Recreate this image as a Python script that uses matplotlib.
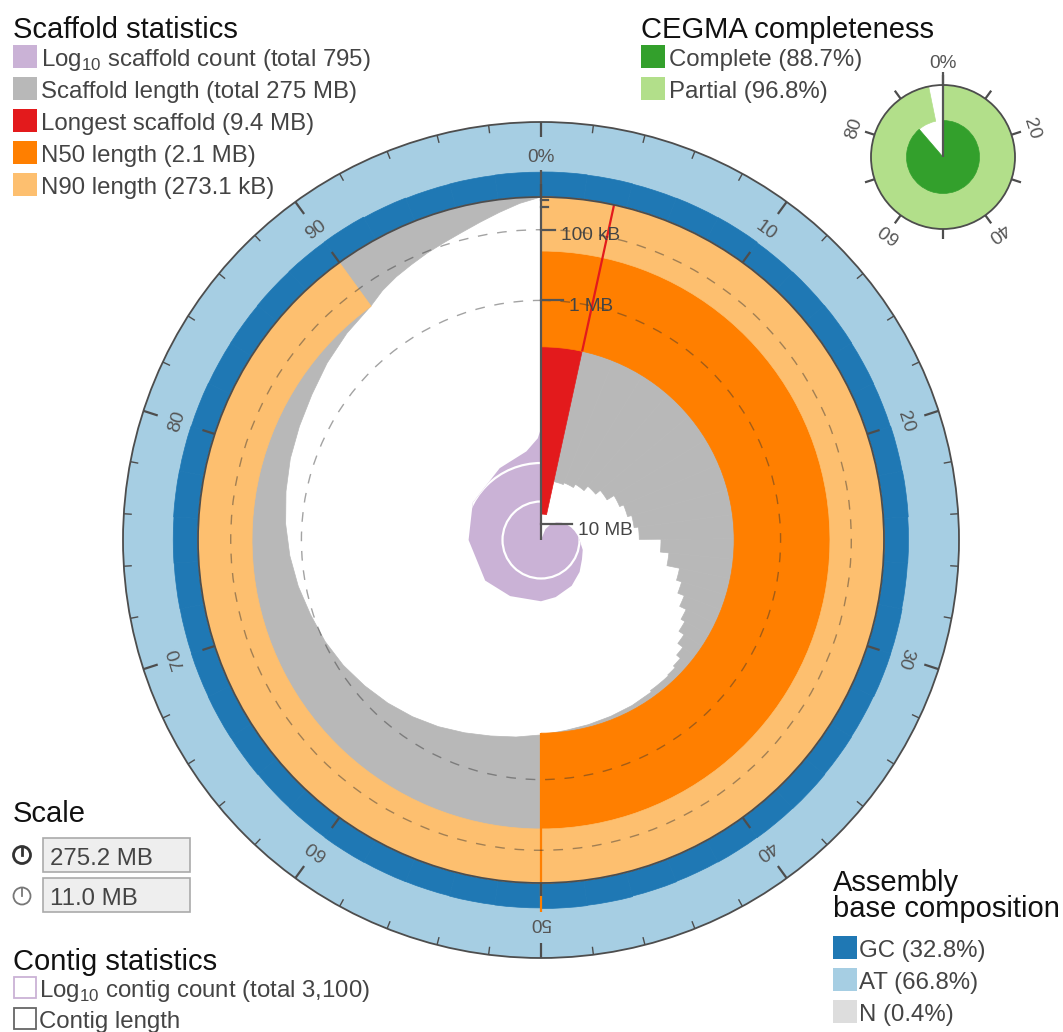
import numpy as np
import matplotlib
matplotlib.use("Agg")
import matplotlib.pyplot as plt
from matplotlib.patches import Wedge, Circle, Rectangle, Polygon

plt.rcParams['font.family'] = ['Liberation Sans', 'DejaVu Sans']
plt.rcParams['mathtext.fontset'] = 'custom'
plt.rcParams['mathtext.rm'] = 'Liberation Sans'

# ---------------- data ----------------
total_mb = 275.2
scale_max_mb = 11.0
longest_mb = 9.4
n50_mb = 2.1
n90_mb = 0.2731
n_scaffolds = 795

# GC content (%) in 2 % bins around the assembly
gc_bins = [33.4, 33.0, 32.6, 32.9, 33.2, 32.5, 32.8, 33.1, 32.7, 32.4,
           32.9, 33.3, 32.6, 32.2, 32.8, 33.0, 32.5, 32.9, 33.4, 33.1,
           32.7, 32.3, 32.8, 33.6, 34.0, 33.2, 32.9, 32.5, 32.7, 33.0,
           32.6, 32.4, 32.9, 33.1, 32.8, 32.5, 32.7, 33.0, 33.5, 33.3,
           32.9, 32.6, 32.8, 33.2, 33.6, 33.9, 33.0, 32.4, 32.7, 33.1]

# scaffold length profile: cumulative % where a step starts, length (MB)
scaffold_pct = [3.4, 6.1, 8.8, 11.4, 13.9, 16.3, 18.6, 20.8, 22.9, 24.9,
                26.6, 28.2, 29.6, 30.9, 32.1, 33.2, 34.3, 35.3, 36.2, 37.1,
                38.0, 40, 42, 44, 46, 48, 50, 52, 54, 56,
                58, 60, 62, 64, 66, 68, 70, 72, 74, 76,
                78, 80, 82, 84, 86, 88, 90, 91, 92, 93,
                94, 95, 96, 97, 98, 99]
scaffold_len = [7.5, 7.4, 7.2, 6.9, 6.6, 6.2, 6.0, 5.8, 5.6, 4.65,
                4.3, 3.8, 3.6, 3.35, 3.1, 2.95, 2.75, 2.55, 2.4, 2.33,
                2.3, 2.25, 2.22, 2.2, 2.17, 2.13, 2.05, 1.95, 1.85, 1.72,
                1.58, 1.45, 1.33, 1.22, 1.11, 1.02, 0.95, 0.86, 0.78, 0.71,
                0.65, 0.59, 0.54, 0.48, 0.40, 0.33, 0.27, 0.21, 0.17, 0.14,
                0.11, 0.085, 0.06, 0.035, 0.015, 0.003]

# cumulative scaffold count profile
count_pct = [0, 3.4, 6.1, 8.8, 11.4, 13.9, 16.3, 18.6, 20.8, 22.9, 24.9,
             28.7, 32, 36, 40.6, 46, 50, 58, 65, 75, 83, 91.7, 97.4, 99.5, 100]
count_n = [1, 1, 2, 3, 4, 5, 6, 7, 8, 9, 10,
           13, 15, 20, 27, 34, 39, 46, 62, 76, 105, 142, 215, 440, 795]

cegma_complete = 88.7
cegma_partial = 96.8

scaffold_legend = [r'Log$_\mathregular{10}$ scaffold count (total 795)',
                   'Scaffold length (total 275 MB)',
                   'Longest scaffold (9.4 MB)',
                   'N50 length (2.1 MB)',
                   'N90 length (273.1 kB)']
radial_ticks_mb = [10, 1, 0.1, 0.01, 0.001]
radial_labels = ['10 MB', '1 MB', '100 kB', '', '']

# ---------------- style ----------------
C_PURPLE = '#cab2d6'
C_GRAY = '#b8b8b8'
C_RED = '#e31a1c'
C_ORANGE = '#ff7f00'
C_LORANGE = '#fdbf6f'
C_DBLUE = '#1f78b4'
C_LBLUE = '#a6cee3'
C_DGREEN = '#33a02c'
C_LGREEN = '#b2df8a'
C_AXIS = '#555555'
FS_T = 21
FS_E = 17.3
FS_S = 13.7

CX, CY = 541, 540
R_IN, R_OUT = 343, 418
DECADE = 38.5
SMOOTH_FROM = 40   # % after which the length profile is drawn as a smooth curve


def rlen(mb):
    return R_IN * (1 - np.sqrt(mb / scale_max_mb))


def ang(p):
    return -90 + 3.6 * p


def xy(p, r, cx=CX, cy=CY):
    t = np.radians(ang(p))
    return cx + r * np.cos(t), cy + r * np.sin(t)


fig = plt.figure(figsize=(10.63, 10.32), dpi=100)
ax = fig.add_axes([0, 0, 1, 1])
ax.set_xlim(0, 1063)
ax.set_ylim(1032, 0)
ax.axis('off')


def sector(p1, p2, r_in, r_out, color, cx=CX, cy=CY, seam=True, z=1):
    w = None if r_in <= 0 else r_out - r_in
    ax.add_patch(Wedge((cx, cy), r_out, ang(p1), ang(p2), width=w,
                       facecolor=color, edgecolor=color if seam else 'none',
                       lw=0.5 if seam else 0, zorder=z))


def radial(p, r1, r2, color, lw, cx=CX, cy=CY, z=5):
    x1, y1 = xy(p, r1, cx, cy)
    x2, y2 = xy(p, r2, cx, cy)
    ax.plot([x1, x2], [y1, y2], color=color, lw=lw, zorder=z,
            solid_capstyle='butt')


# composition ring
sector(0, 100, R_IN, R_OUT, C_LBLUE, seam=False)
for i, g in enumerate(gc_bins):
    sector(2 * i, 2 * i + 2, R_IN, R_IN + (R_OUT - R_IN) * g / 100, C_DBLUE)

# scaffold lengths: stepped for the large scaffolds, smooth for the rest
for i, p in enumerate(scaffold_pct):
    if p >= SMOOTH_FROM:
        break
    sector(p, scaffold_pct[i + 1], rlen(scaffold_len[i]), R_IN, C_GRAY)
tail = [(p, l) for p, l in zip(scaffold_pct, scaffold_len) if p >= SMOOTH_FROM]
pts = [xy(p, R_IN) for p in np.linspace(SMOOTH_FROM, 100, 241)]
pts += [xy(p, rlen(l)) for p, l in reversed(tail)]
ax.add_patch(Polygon(pts, closed=True, facecolor=C_GRAY, edgecolor=C_GRAY,
                     lw=0.5, zorder=1))

longest_pct = 100 * longest_mb / total_mb
sector(0, longest_pct, rlen(longest_mb), R_IN, C_RED, z=2)
sector(0, 50, rlen(n50_mb), R_IN, C_ORANGE, z=3)
sector(0, 90, rlen(n90_mb), R_IN, C_LORANGE, z=3)
radial(longest_pct, rlen(n50_mb), R_IN, C_RED, 1.6, z=4)
radial(50, rlen(n50_mb), R_IN + 29, C_ORANGE, 1.6, z=4)

# dashed reference circles
for mb in [1, 0.1]:
    ax.add_patch(Circle((CX, CY), rlen(mb), fill=False, ec='#333333',
                        alpha=0.45, lw=1.0, ls=(0, (7, 7)), zorder=4))

# scaffold count
pts = [(CX, CY)] + [xy(p, DECADE * np.log10(n)) for p, n in zip(count_pct, count_n)]
purple = Polygon(pts, closed=True, facecolor=C_PURPLE, edgecolor='none', zorder=4)
ax.add_patch(purple)
for k in [1, 2]:
    c = Circle((CX, CY), DECADE * k, fill=False, ec='white', lw=1.6, zorder=4.5)
    ax.add_patch(c)
    c.set_clip_path(purple)

# radial axis
radial(0, 0, R_IN + 27, C_AXIS, 1.6, z=6)
tick_len = [31, 22, 14, 7, 7]
for mb, lab, tl in zip(radial_ticks_mb, radial_labels, tick_len):
    y = CY - rlen(mb)
    ax.plot([CX, CX + tl], [y, y], color=C_AXIS, lw=1.6, zorder=6)
    if lab:
        ax.text(CX + tl + 6, y + 6, lab, fontsize=FS_S, color='#444444',
                ha='left', va='center', zorder=6)

# ring outlines, ticks and labels
for r in [R_IN, R_OUT]:
    ax.add_patch(Circle((CX, CY), r, fill=False, ec='#4d4d4d', lw=1.3, zorder=6))
for p in range(0, 100, 2):
    major = p % 10 == 0
    radial(p, R_OUT - (15 if major else 8), R_OUT, '#4d4d4d', 1.6 if major else 1.0, z=6)
    if major:
        radial(p, R_IN, R_IN + 13, '#4d4d4d', 1.6, z=6)
        lx, ly = xy(p, 383)
        ax.text(lx, ly, '0%' if p == 0 else str(p), fontsize=FS_S, color='#555555',
                rotation=-3.6 * p, rotation_mode='anchor', ha='center', va='center', zorder=6)

# CEGMA inset
GX, GY, GR_IN, GR_OUT = 943, 157, 36.5, 72
sector(0, cegma_partial, GR_IN, GR_OUT, C_LGREEN, cx=GX, cy=GY)
sector(0, cegma_complete, 0, GR_IN, C_DGREEN, cx=GX, cy=GY)
ax.add_patch(Circle((GX, GY), GR_OUT, fill=False, ec='#4d4d4d', lw=1.3, zorder=6))
for p in range(0, 100, 10):
    radial(p, GR_OUT, GR_OUT + 10, '#4d4d4d', 1.6, cx=GX, cy=GY)
radial(0, 0, GR_OUT + 13, C_AXIS, 1.6, cx=GX, cy=GY)
for p in [0, 20, 40, 60, 80]:
    lx, ly = xy(p, 93, GX, GY)
    ax.text(lx, ly, '0%' if p == 0 else str(p), fontsize=FS_S, color='#555555',
            rotation=-3.6 * p, rotation_mode='anchor', ha='center', va='center')


# legends
def row(x, yb, label, color=None, edge=None, tx=4):
    if color is not None:
        ax.add_patch(Rectangle((x, yb - 21), 24, 23, facecolor=color, edgecolor='none'))
    else:
        ax.add_patch(Rectangle((x + 1, yb - 20), 22, 21, facecolor='white',
                               edgecolor=edge, lw=1.3))
    ax.text(x + 24 + tx, yb, label, fontsize=FS_E, color='#444444', va='baseline')


ax.text(13, 38, 'Scaffold statistics', fontsize=FS_T, color='#111111', va='baseline')
for i, (lab, col) in enumerate(zip(scaffold_legend,
                                   [C_PURPLE, C_GRAY, C_RED, C_ORANGE, C_LORANGE])):
    row(13, 66 + 32 * i, lab, col)

ax.text(641, 38, 'CEGMA completeness', fontsize=FS_T, color='#111111', va='baseline')
row(641, 66, 'Complete (88.7%)', C_DGREEN)
row(641, 98, 'Partial (96.8%)', C_LGREEN)

ax.text(13, 822, 'Scale', fontsize=FS_T, color='#111111', va='baseline')
for yc, yb, txt, col, lw in [(855, 865, '275.2 MB', '#333333', 2.0),
                             (896, 905, '11.0 MB', '#777777', 1.3)]:
    ax.add_patch(Circle((22, yc), 8.5, fill=False, ec=col, lw=lw))
    ax.plot([22, 22], [yc, yc - 8.5], color=col, lw=lw)
    ax.add_patch(Rectangle((43, yb - 27), 147, 34, facecolor='#eeeeee',
                           edgecolor='#aaaaaa', lw=1.2))
    ax.text(50, yb, txt, fontsize=FS_E, color='#444444', va='baseline')

ax.text(13, 970, 'Contig statistics', fontsize=FS_T, color='#111111', va='baseline')
row(13, 997, r'Log$_\mathregular{10}$ contig count (total 3,100)', edge=C_PURPLE, tx=2)
row(13, 1028, 'Contig length', edge='#666666', tx=2)

ax.text(833, 917, 'Assembly\nbase composition', fontsize=FS_T, color='#111111',
        va='baseline', linespacing=0.92)
row(833, 957, 'GC (32.8%)', C_DBLUE, tx=2)
row(833, 989, 'AT (66.8%)', C_LBLUE, tx=2)
row(833, 1021, 'N (0.4%)', '#dddddd', tx=2)

fig.savefig('out.png', dpi=100)
